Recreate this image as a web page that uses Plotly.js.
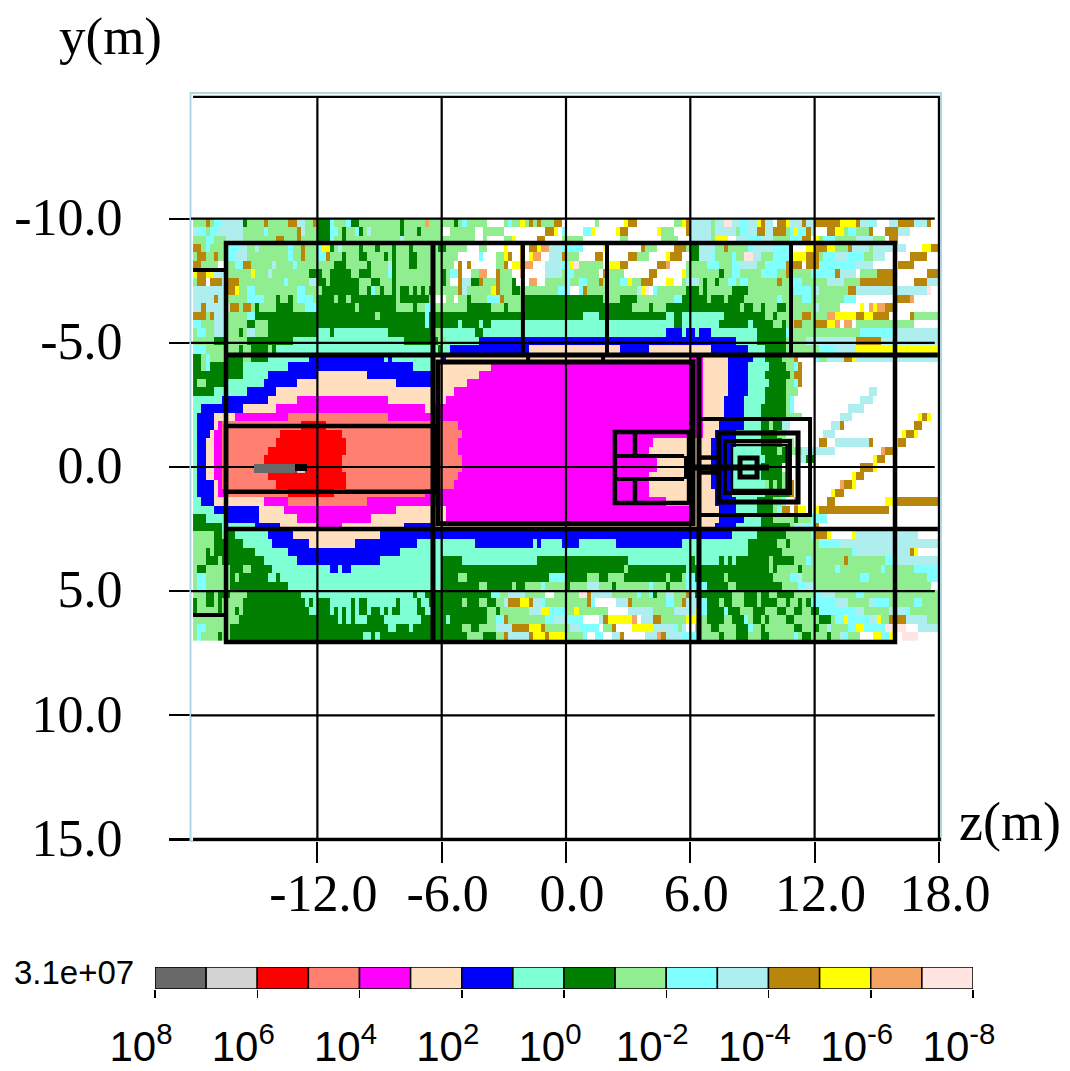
<!DOCTYPE html>
<html><head><meta charset="utf-8">
<script src="https://cdn.plot.ly/plotly-3.0.1.min.js"></script>
<style>html,body{margin:0;padding:0;background:#fff}#p{width:1070px;height:1071px}</style>
</head><body><div id="p"></div>
<script>
// Flux bands: code, lower log10 edge order from 10^8 to 10^-8
const bandCodes = ['a','b','r','s','m','p','B','q','G','l','c','t','o','y','n','i'];
const bandColors = ['#696969','#D3D3D3','#FF0000','#FF8070','#FF00FF','#FFDFBD','#0000FF','#7FFFD4','#007F00','#90EE90','#7FFFFF','#AFEEEE','#B8860B','#FFFF00','#F4A460','#FFE4E1'];
const bandTickVals = [0,2,4,6,8,10,12,14,16];
const bandTickText = ['10<sup>8</sup>','10<sup>6</sup>','10<sup>4</sup>','10<sup>2</sup>','10<sup>0</sup>','10<sup>-2</sup>','10<sup>-4</sup>','10<sup>-6</sup>','10<sup>-8</sup>'];
const maxFluxLabel = '3.1e+07';
const zTicks = [-12,-6,0,6,12,18];
const zTickText = ['-12.0','-6.0','0.0','6.0','12.0','18.0'];
const yTicks = [-10,-5,0,5,10,15];
const yTickText = ['-10.0','-5.0','0.0','5.0','10.0','15.0'];
// Mesh: 180 columns of 0.2 m from z=-18, 50 rows of 0.34 m from y=-10. Each token: band code + last column of the run.
const meshZ0 = -18, meshDZ = 0.2, meshY0 = -10, meshDY = 0.34;
const fluxRows = [
"l3 o4 l5 c7 t12 G13 l17 o18 l23 o25 t27 l29 o30 G33 c34 l37 c38 G40 l50 G51 l56 n57 l63 G64 l65 c66 l71 w75 l76 c77 l79 y80 l81 o82 l83 o84 l87 o89 w97 l98 w104 y105 o107 w116 l118 y119 o120 t125 l126 t128 i130 t132 c134 t136 y137 o138 t140 w141 o143 y144 t147 o148 t150 o156 y160 o161 t163 c164 t165 w168 t170 o174 t177 o178 w180",
"t1 c3 l4 c6 t12 l17 c18 l25 o26 t27 l30 G33 c35 l36 G37 l39 c40 G41 l42 G42 t43 l50 G51 l54 G55 l60 w62 l68 w70 l75 w85 o87 y88 w89 c90 w94 c96 y97 w102 y103 o105 w112 y113 l116 w119 o120 t125 l126 t131 l132 c134 t136 o137 w137 o138 t140 o143 l144 c145 y146 c148 o149 t150 w153 o155 y157 l158 c160 l163 o164 w167 o170 t173 w180",
"l3 c5 l8 t12 l20 o22 l25 o26 l30 G33 c34 l36 G37 l50 t51 l68 w70 l71 w75 l77 y78 w83 o85 w89 l94 w103 l105 w113 l117 w120 t125 l126 y129 w131 t134 c137 t140 l144 c147 o149 w150 y151 l152 c155 l160 t164 l167 w168 o170 w180",
"o2 l3 c4 l8 c11 t13 l15 t16 l23 c24 l26 o27 l30 c31 y33 G34 l35 t36 l40 G41 l44 G45 l48 G49 l52 G53 l59 G61 l66 w69 l71 w75 y76 w79 o80 w81 o83 y84 n86 t89 c94 w99 y100 w108 o109 l112 w116 o119 l120 G122 t126 l128 o129 l134 c135 t140 c144 w148 y150 o153 y155 l158 o159 t163 l164 t172 w176 y178 o180",
"l1 o3 l5 o6 l8 c10 t13 l23 c24 l26 o27 l30 c32 o33 l36 G37 l40 G41 l41 G42 l46 G47 l48 G49 l52 G54 l64 w69 c70 w73 l75 y76 o77 w79 o80 w81 y82 n84 w86 t89 o90 l93 w97 o99 w105 o107 l110 w114 y115 o118 w120 G122 t125 c126 l130 c131 l133 i135 t137 l140 c144 y148 o151 l152 c155 t158 c162 l164 t167 w173 o177 w180",
"o2 l6 w8 l10 c12 o14 l19 t20 l24 c25 l34 G37 l42 G43 l47 t48 G49 l52 G54 l63 w64 o65 w66 o67 w73 l75 o76 w77 y79 o80 n82 w85 t89 c91 y92 i93 l99 w100 y103 o105 w112 o114 n115 w119 l124 c127 l130 c132 t136 l138 c143 o147 w148 o151 c160 o160 t164 w170 o174 w180",
"y1 o3 y5 t8 l14 y15 l18 t19 l28 G31 l33 G38 l40 G43 l47 c48 G49 l60 G61 l62 c64 o65 w67 l69 n71 w73 o74 l77 w79 n80 w85 t89 l90 c92 l98 w99 o100 l104 w110 o112 w118 y119 l127 G128 l130 c132 l137 c141 l143 o144 l149 c155 o156 t160 w161 l165 o169 i170 w177 o180",
"l1 o3 w4 o7 t8 o11 l22 c23 l28 t30 G32 l33 G40 l43 G45 l48 G49 l60 G61 l62 w64 o65 t67 G69 o70 l73 o74 l77 G78 w81 n83 w85 l90 c91 l93 c95 l98 o99 l103 c105 y106 l108 o111 w114 y116 w118 l119 t122 l123 G124 l126 G127 l129 c131 l132 c134 l141 o142 l144 c147 l153 t157 l161 o169 w174 o177 t180",
"t8 o10 y11 l13 c15 l25 c27 l31 G40 l42 G43 c44 l45 G46 l48 G49 l50 G52 l53 G54 l55 G56 l57 G58 l64 o65 t66 l72 y73 o74 l77 G79 l88 c91 w93 c94 o95 l107 t108 y109 i110 w111 c112 l119 G122 l123 G124 l130 G131 G134 l145 c149 l150 t151 l158 o160 t177 i178 w180",
"t5 o6 t8 l13 c17 l20 G21 l23 G24 l25 c29 l30 G34 l35 G37 l38 G39 G49 l50 G57 l58 w61 l63 w64 l66 G67 l71 c74 o75 l80 G99 l103 G107 l116 c118 G124 l125 G128 l129 G133 l141 c142 l147 c149 l157 c160 w169 o173 n174 w180",
"t2 o3 t6 c6 t9 o11 l12 o14 l15 G16 l20 G24 l27 c30 G39 l40 G49 l53 G54 l56 c58 l66 G72 l75 G76 l80 G106 l110 G111 l114 G132 l133 G135 l137 G138 l141 G143 l150 t151 l156 w161 y162 w163 n164 y165 n167 o169 y170 w180",
"o3 l4 o5 t8 l13 c15 G44 l45 G56 c57 G94 q98 G114 q116 G118 q128 G138 l140 G141 l147 o149 l153 n155 y160 o162 y164 o168 w173 o174 l180",
"c2 l5 t8 l13 G15 l18 G56 c57 G64 q65 G69 q70 G72 q116 G118 q127 G134 q135 G140 l142 G143 l145 o147 l150 o153 y155 n156 w157 n159 w160 l174 w180",
"l1 c3 l5 t8 l11 G12 l13 t15 l18 G30 q33 G34 q47 G58 l60 q68 G70 q114 B118 q119 B121 q122 B125 q136 G143 c144 l161 c170 t180",
"l5 G8 l13 G24 q51 G59 l61 q69 B131 q136 G143 l148 t160 o166 t180",
"c3 l11 G12 l14 G18 l19 G20 q59 G60 q62 B81 p103 B110 p125 B134 q138 G143 l151 c155 t160 y180",
"G2 l3 c4 l8 G12 l14 G18 q28 B46 q47 B48 q58 p60 B61 p120 m123 p129 B135 q138 G142 l145 o146 w150 c151 l153 t157 o159 y160 t180",
"G2 l3 c4 G12 q23 B53 q59 p72 m120 m123 p129 B134 q139 G143 l145 c146 o147 w180",
"G12 q18 B30 p42 B58 p69 m123 p129 B134 q138 G144 l145 o147 w180",
"G1 l3 G8 q17 B25 p49 B58 p66 m123 p129 B134 q139 G143 l145 c146 o147 w180",
"G5 q13 B20 p63 m123 p129 B134 q138 G143 l146 w163 t165 w180",
"q7 B18 p25 m47 p61 m123 p128 B133 q138 G143 l144 c145 w161 t164 w180",
"q2 B12 p20 m56 p58 m123 p128 B133 q137 G143 l144 c145 w158 t162 w180",
"q1 B5 p10 m23 s47 m123 p128 B133 q137 G143 l147 w156 t159 w175 y176 o177 y178 w180",
"q1 B5 p6 m7 s26 r32 s64 m123 p127 B133 q137 G139 l140 G142 t144 w154 t156 o157 w174 o176 w180",
"q1 B4 p5 m7 s21 r36 s65 m123 p126 B131 q137 G141 l143 w152 t155 w171 y172 o174 y175 w180",
"q1 B3 p5 m7 s20 r37 s64 m111 p125 B131 q137 G142 l145 w151 o153 w155 t163 o164 w169 y170 o172 w180",
"q1 B3 p5 m7 s18 r37 s64 m110 p125 B130 q137 G141 l142 G143 l147 t155 w166 n167 o169 y170 w180",
"q1 B3 p5 m7 s17 r36 s65 m112 p125 B130 q138 G143 l144 w146 t148 G150 w164 y165 o167 w180",
"q1 B3 p5 m7 s17 r36 s65 m112 p125 B130 q137 G142 w161 o164 y165 w180",
"q1 B3 p5 m7 s18 r37 s64 m110 p125 B130 q137 G142 l143 w159 y160 o162 w180",
"q1 B5 p6 m7 s20 r37 s63 m110 p125 B130 q138 l139 G140 l141 G142 l144 o145 w156 n157 o159 y160 w180",
"q1 B5 p6 m8 s23 r34 s56 m110 p126 B130 q138 G144 o145 w154 y155 o157 w180",
"q2 B5 p17 m23 s42 m114 p126 B131 q136 G140 l142 c143 w145 n146 w153 o155 y155 w167 y169 o180",
"q5 B16 p22 m49 p61 m120 p127 B131 q136 G140 l141 c142 o144 w145 o146 y148 w150 y151 o168 w180",
"G3 q8 B16 p25 m43 p61 m120 p127 B133 q137 G140 l145 G146 l149 c153 w180",
"G7 q15 B21 p30 m36 p51 B58 p126 B131 q137 G144 l145 t148 c149 t150 o151 w180",
"l5 G7 l8 G10 q18 B24 p45 B130 q136 G143 l149 c150 o151 w151 o153 y154 w159 y160 t175 w180",
"l5 G12 q19 B28 p39 B54 q68 B82 q83 B84 q89 B93 q102 B118 q134 G141 l143 G144 l151 c156 t180",
"l3 G4 l5 G15 q23 B50 q134 G142 l159 c160 t173 o174 y175 w180",
"l3 G6 l7 G17 q25 B45 q60 G65 q77 G77 q83 G105 q118 G118 q120 G121 q127 G128 q129 G130 q131 G139 l140 G145 l148 c149 l157 o158 l167 c169 t180",
"l1 G3 l5 G5 l9 G12 l14 G19 q33 B35 q36 B38 q60 G104 l105 G119 q120 G139 l140 G141 l146 G147 l155 c156 l166 c167 l174 c180",
"l1 c3 l9 G10 l11 G18 q20 G21 q60 G64 l66 G81 l81 G86 c90 G95 l98 G100 l104 G114 l115 G118 l119 c121 G128 l129 G140 l144 c146 t147 l161 c163 l177 c180",
"l1 c3 l9 G23 q60 G69 l71 G77 l78 G80 l84 c85 l90 G91 l94 t94 l95 t98 l101 G102 l110 c111 l114 G115 l119 c124 G129 l131 G142 l146 c148 t150 l178 w180",
"l3 G5 l6 G9 l13 G26 q53 G54 q56 G72 c74 l76 t80 l85 w87 l93 i95 o96 t101 l107 c108 l110 c111 G112 l114 t116 l119 o120 t121 G130 l133 G136 l137 G139 l141 G145 l150 c151 t155 l160 c162 l180",
"G1 l3 G5 l6 G7 l12 G27 q28 G29 q30 G33 q38 G39 q40 G42 q49 G50 q54 G55 q57 G65 l66 G69 l71 G73 l75 t76 o79 y81 o82 t84 c85 l95 o96 c97 w102 t105 o106 l114 c116 l118 o119 t122 c124 G127 l128 G130 l133 G136 l137 G141 l143 G144 l146 G147 l148 G149 c155 t158 l163 t164 c168 l174 c176 l180",
"G1 l6 G7 l10 G11 l12 G28 q30 G33 q34 G35 q36 G37 q38 G39 q40 G42 q43 G45 q46 G47 q48 G50 q54 G56 q58 G71 t71 l73 G74 l81 t84 y86 c90 l92 y93 l100 w105 t111 l116 t121 y122 c124 G128 c129 G132 l135 G138 l141 G143 l145 G147 l149 G151 c160 t162 o162 l168 t172 c173 l180",
"l7 c7 l11 G35 q36 G37 q38 G39 q42 G46 q55 G61 q62 G71 l73 c75 o76 l85 c87 t90 c94 w98 t99 o100 y106 n107 w108 t111 o113 l119 y122 l124 G128 l130 G133 c134 l135 G137 l138 G139 l143 G145 l151 G154 l155 c157 y158 c163 t165 y166 l168 o172 t177 l180",
"l1 c3 l9 G47 q49 G52 q53 G65 l67 G69 l73 t77 o81 y84 o85 l91 t93 c98 w99 l101 o102 w106 y111 t116 c117 l118 t119 w121 l125 G127 l131 G134 c135 l137 G138 l145 G147 l150 G151 l153 t154 l158 c160 y162 c167 i172 w175 t180",
"l1 c2 l6 G7 l9 G41 q43 G44 q45 G66 l70 G73 l75 o76 t81 o82 y85 o86 y90 l94 c95 w97 c99 w101 t103 o104 w109 t112 n113 o114 t118 c122 l127 G128 l131 G134 l137 G139 l145 c146 l147 G149 l153 G154 l155 o155 l156 t157 c158 l161 w164 y166 c168 y169 w171 i175 w180"
];
// Geometry outlines in metres: [z0, y0, z1, y1, line width]
const regionBoxes = [
 [-16.41,-9.02,15.88,7.05,4.5],[-6.18,-4.23,6.13,2.29,5],[-16.41,-1.65,-6.23,1.0,4.5],
 [6.42,-1.93,11.78,1.93,4],[7.38,-1.37,11.2,1.41,5],[7.67,-1.05,10.81,1.05,4],[8.01,-0.89,10.65,0.93,2.5],
 [8.4,-0.36,9.22,0.40,5],[2.36,-1.41,5.94,1.45,4.5]
];
const regionLines = [
 [-16.41,-4.51,17.95,-4.51,5],[-16.41,2.50,17.95,2.50,4.5],[-6.42,-9.02,-6.42,7.05,5],
 [-2.08,-9.02,-2.08,-4.51,4],[1.98,-9.02,1.98,-4.51,4],[10.86,-9.02,10.86,-4.51,4],[6.42,-4.51,6.42,7.05,5],
 [-1.83,-4.51,-1.83,-4.23,4],[1.79,-4.51,1.79,-4.23,4],
 [6.42,-0.38,7.38,-0.38,4.5],[6.42,0.22,7.38,0.22,4.5],[5.98,0.02,9.8,0.02,6],
 [3.33,-1.41,3.33,-0.44,4.5],[3.33,0.48,3.33,1.45,4.5],[2.36,-0.44,5.7,-0.44,4],[2.36,0.48,5.7,0.48,4],[5.84,-0.44,5.84,0.48,6],
 [-18,-7.93,-16.41,-7.93,4],[-18,5.96,-16.41,5.96,4]
];
const sourceBlocks = [[-15.06,-0.12,-13.08,0.24,'#696969'],[-13.08,-0.12,-12.5,0.16,'#000000'],[-12.98,0.16,-12.6,0.24,'#D3D3D3']];

const levelOf = {}; bandCodes.forEach((c,i)=>levelOf[c]=7.5-i);
const fluxZ = fluxRows.map(r=>{
  const row = new Array(180).fill(null); let pos=0;
  r.split(' ').forEach(t=>{const c=t[0],end=+t.slice(1);
    for(;pos<end&&pos<180;pos++) row[pos]=c==='w'?null:levelOf[c];});
  return row;
});
const colorscale=[]; bandColors.slice().reverse().forEach((c,i)=>{colorscale.push([i/16,c],[(i+1)/16,c]);});

const W=1070,H=1071, SERIF='"Liberation Serif", serif', SANS='"Liberation Sans", Arial, sans-serif';
const shapes=[];
const line=(x0,y0,x1,y1,w,color)=>shapes.push({type:'line',xref:'x',yref:'y',x0,y0,x1,y1,layer:'above',line:{color:color||'#000',width:w}});
// frame (paper coordinates, so it is not clipped at the plot edge)
shapes.push({type:'rect',xref:'paper',yref:'paper',x0:190.5/W,x1:941/W,y0:(H-841)/H,y1:(H-93)/H,layer:'above',line:{color:'#ADD8E6',width:2}});
zTicks.forEach(v=>line(v,-14.9,v,15.06,2.2));
yTicks.forEach(v=>line(v===15?-18:-18.1,v,v===15?18.1:17.8,v,v===15?3.5:2.2));
line(-18,-14.9,18.05,-14.9,2.2);
regionBoxes.forEach(b=>shapes.push({type:'rect',xref:'x',yref:'y',x0:b[0],y0:b[1],x1:b[2],y1:b[3],layer:'above',line:{color:'#000',width:b[4]}}));
regionLines.forEach(l=>line(l[0],l[1],l[2],l[3],l[4]));
sourceBlocks.forEach(b=>shapes.push({type:'rect',xref:'x',yref:'y',x0:b[0],y0:b[1],x1:b[2],y1:b[3],layer:'above',line:{width:0},fillcolor:b[4]}));

const traces=[
 {type:'heatmap',z:fluxZ,x0:meshZ0+meshDZ/2,dx:meshDZ,y0:meshY0+meshDY/2,dy:meshDY,zmin:-8,zmax:8,colorscale,showscale:false,hoverinfo:'skip',xaxis:'x',yaxis:'y'},
 {type:'bar',x:bandColors.map((c,i)=>i+0.5),y:bandColors.map(()=>1),width:1,marker:{color:bandColors,line:{color:'#000',width:1.5}},hoverinfo:'skip',xaxis:'x2',yaxis:'y2',showlegend:false}
];
const layout={
 width:W,height:H,margin:{l:0,r:0,t:0,b:0},paper_bgcolor:'#fff',plot_bgcolor:'rgba(0,0,0,0)',showlegend:false,
 xaxis:{domain:[191/W,941/W],range:[-18.1,18.1],tickmode:'array',tickvals:zTicks,ticktext:zTickText,ticks:'outside',ticklen:21,tickwidth:2.2,tickcolor:'#000',showgrid:false,zeroline:false,showline:false,tickfont:{family:SERIF,size:52,color:'#000'},ticklabelshift:6,ticklabelstandoff:-14},
 yaxis:{domain:[(H-841)/H,(H-93)/H],range:[15.06,-15.06],tickmode:'array',tickvals:yTicks,ticktext:yTickText,ticks:'outside',ticklen:21,tickwidth:2.2,tickcolor:'#000',showgrid:false,zeroline:false,showline:false,tickfont:{family:SERIF,size:52,color:'#000'},ticklabelshift:2,ticklabelstandoff:36},
 xaxis2:{anchor:'y2',domain:[155/W,973/W],range:[0,16],tickmode:'array',tickvals:bandTickVals,ticktext:bandTickText,ticks:'outside',ticklen:8,tickwidth:1.5,tickcolor:'#000',showgrid:false,zeroline:false,showline:false,tickangle:0,tickfont:{family:SANS,size:42,color:'#000'},ticklabelshift:-14,ticklabelstandoff:13},
 yaxis2:{anchor:'x2',domain:[(H-989)/H,(H-967)/H],range:[0,1],visible:false,fixedrange:true},
 shapes,
 annotations:[
  {xref:'paper',yref:'paper',x:110/W,y:(H-37)/H,text:'y(m)',showarrow:false,font:{family:SERIF,size:53,color:'#000'},xanchor:'center',yanchor:'middle'},
  {xref:'paper',yref:'paper',x:1010/W,y:(H-822)/H,text:'z(m)',showarrow:false,font:{family:SERIF,size:54,color:'#000'},xanchor:'center',yanchor:'middle'},
  {xref:'paper',yref:'paper',x:74/W,y:(H-972)/H,text:maxFluxLabel,showarrow:false,font:{family:SANS,size:33,color:'#000'},xanchor:'center',yanchor:'middle'}
 ]
};
Plotly.newPlot('p',traces,layout,{staticPlot:true,displayModeBar:false});
</script></body></html>
